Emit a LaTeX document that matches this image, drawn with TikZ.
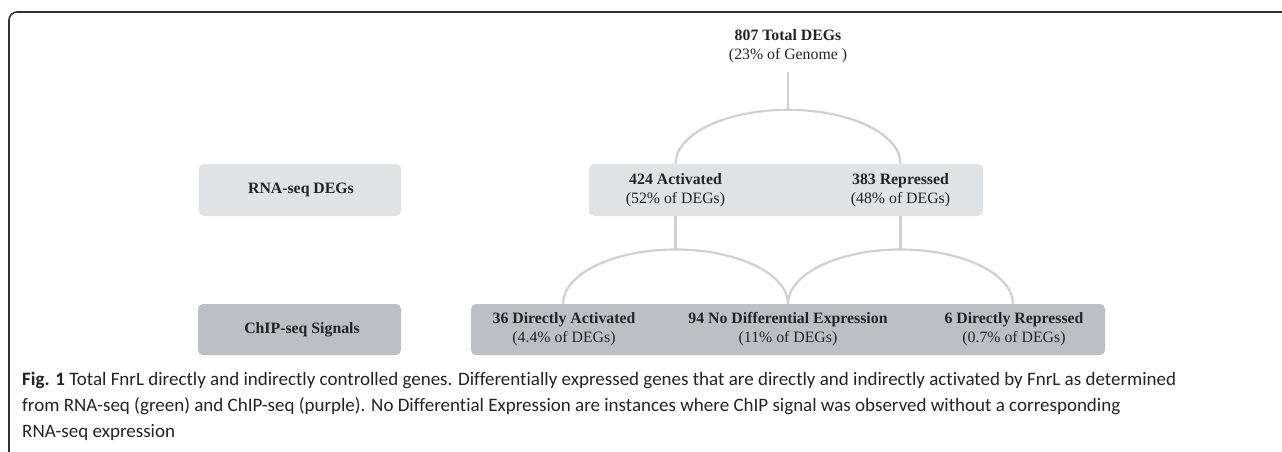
\documentclass[tikz,border=0pt]{standalone}
\usepackage{fontspec}
\setmainfont{Liberation Serif}
\newfontfamily\capfont[Ligatures={NoCommon}]{Carlito}
\definecolor{lightbox}{RGB}{225,226,228}
\definecolor{darkbox}{RGB}{190,191,195}
\definecolor{linkgray}{RGB}{208,208,208}
\definecolor{framegray}{RGB}{50,50,50}
\definecolor{textgray}{RGB}{35,35,35}
\tikzset{
  boxlight/.style={fill=lightbox, draw=none, rounded corners=5pt, inner sep=0pt},
  boxdark/.style={fill=darkbox, draw=none, rounded corners=5pt, inner sep=0pt},
  lbl/.style={align=center, inner sep=0pt, text=textgray, font=\fontsize{15.8}{18.8}\selectfont},
  toplbl/.style={lbl, minimum height=52pt},
  botlbl/.style={lbl, minimum height=51pt},
  link/.style={draw=linkgray, line width=2.2pt},
  capline/.style={anchor=base west, inner sep=0pt, text=textgray, font=\capfont\fontsize{19}{23}\selectfont}
}
\begin{document}
\begin{tikzpicture}[x=1pt,y=-1pt]
\useasboundingbox (0,0) rectangle (1282,451);
% frame
\draw[framegray, line width=1.6pt, rounded corners=8pt] (1300,12) -- (9,12) -- (9,462) -- (1300,462);
% boxes
\node[boxlight, minimum width=202pt, minimum height=52pt] (rnabox) at (300,190) {};
\node[boxlight, minimum width=394pt, minimum height=52pt] (degbox) at (786,190) {};
\node[boxdark, minimum width=203pt, minimum height=51pt] (chipbox) at (299.5,329.5) {};
\node[boxdark, minimum width=634pt, minimum height=51pt] (sigbox) at (788,329.5) {};
% labels
\node[lbl] (rnalbl) at (301,190) {\bfseries RNA-seq DEGs};
\node[lbl] (chiplbl) at (302,329.5) {\bfseries ChIP-seq Signals};
\node[lbl] (total) at (788,46) {\bfseries 807 Total DEGs\\(23\% of Genome )};
\node[toplbl] (act) at (675.5,190) {\bfseries 424 Activated\\(52\% of DEGs)};
\node[toplbl] (rep) at (900.5,190) {\bfseries 383 Repressed\\(48\% of DEGs)};
\node[botlbl] (dact) at (564,329.5) {\bfseries 36 Directly Activated\\(4.4\% of DEGs)};
\node[botlbl] (nodiff) at (788,329.5) {\bfseries 94 No Differential Expression\\(11\% of DEGs)};
\node[botlbl] (drep) at (1014,329.5) {\bfseries 6 Directly Repressed\\(0.7\% of DEGs)};
% connectors
\coordinate (topfork) at (788,110);
\coordinate (lfork) at (675.5,249.5);
\coordinate (rfork) at (900.5,249.5);
\coordinate (la) at (563,304);
\coordinate (lb) at (788,304);
\draw[link] ([yshift=-9pt]total.south) -- (topfork);
\draw[link] (act.north) arc[start angle=180, end angle=0, x radius=112.5pt, y radius=54pt];
\draw[link] (act.south) -- (lfork);
\draw[link] (rep.south) -- (rfork);
\draw[link] (la) arc[start angle=180, end angle=0, x radius=112.5pt, y radius=54.5pt];
\draw[link] (lb) arc[start angle=180, end angle=0, x radius=112.5pt, y radius=54.5pt];
% caption
\node[capline] (cap1) at (22,385) {\textbf{Fig. 1} Total FnrL directly and indirectly controlled genes. Differentially expressed genes that are directly and indirectly activated by FnrL as determined};
\node[capline] (cap2) at (22,411) {from RNA-seq (green) and ChIP-seq (purple). No Differential Expression are instances where ChIP signal was observed without a corresponding};
\node[capline] (cap3) at (22,437) {RNA-seq expression};
\end{tikzpicture}
\end{document}
